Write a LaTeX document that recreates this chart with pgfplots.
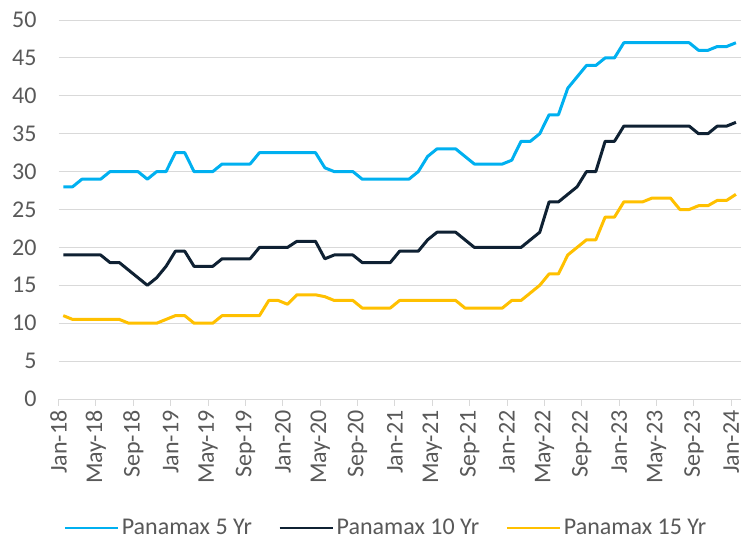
\documentclass[border=0pt]{standalone}
\usepackage{pgfplots}
\pgfplotsset{compat=1.18}
\usepackage{pgfplotstable}
\usepackage{fontspec}
\setmainfont{Carlito}
\definecolor{cblue}{HTML}{00B0F0}
\definecolor{cnavy}{HTML}{0F2133}
\definecolor{cyellow}{HTML}{FFC000}
\definecolor{cgrid}{HTML}{D9D9D9}
\definecolor{ctext}{HTML}{595959}
\pgfplotstableread{
i five ten fifteen
0 28 19 11
1 28 19 10.5
2 29 19 10.5
3 29 19 10.5
4 29 19 10.5
5 30 18 10.5
6 30 18 10.5
7 30 17 10
8 30 16 10
9 29 15 10
10 30 16 10
11 30 17.5 10.5
12 32.5 19.5 11
13 32.5 19.5 11
14 30 17.5 10
15 30 17.5 10
16 30 17.5 10
17 31 18.5 11
18 31 18.5 11
19 31 18.5 11
20 31 18.5 11
21 32.5 20 11
22 32.5 20 13
23 32.5 20 13
24 32.5 20 12.5
25 32.5 20.8 13.75
26 32.5 20.8 13.75
27 32.5 20.8 13.75
28 30.5 18.5 13.5
29 30 19 13
30 30 19 13
31 30 19 13
32 29 18 12
33 29 18 12
34 29 18 12
35 29 18 12
36 29 19.5 13
37 29 19.5 13
38 30 19.5 13
39 32 21 13
40 33 22 13
41 33 22 13
42 33 22 13
43 32 21 12
44 31 20 12
45 31 20 12
46 31 20 12
47 31 20 12
48 31.5 20 13
49 34 20 13
50 34 21 14
51 35 22 15
52 37.5 26 16.5
53 37.5 26 16.5
54 41 27 19
55 42.5 28 20
56 44 30 21
57 44 30 21
58 45 34 24
59 45 34 24
60 47 36 26
61 47 36 26
62 47 36 26
63 47 36 26.5
64 47 36 26.5
65 47 36 26.5
66 47 36 25
67 47 36 25
68 46 35 25.5
69 46 35 25.5
70 46.5 36 26.2
71 46.5 36 26.2
72 47 36.5 27
}\datatable
\begin{document}
\begin{tikzpicture}
\begin{axis}[
  at={(0,0)}, anchor=south west,
  width=511.5pt, height=284.25pt, scale only axis,
  xmin=-0.5, xmax=72.5, ymin=0, ymax=50,
  ytick={0,5,...,50},
  xtick={-0.5,3.5,...,71.5},
  xticklabels={Jan-18,May-18,Sep-18,Jan-19,May-19,Sep-19,Jan-20,May-20,Sep-20,Jan-21,May-21,Sep-21,Jan-22,May-22,Sep-22,Jan-23,May-23,Sep-23,Jan-24},
  x tick label style={rotate=90, anchor=east, font=\fontsize{18}{21}\selectfont, text=ctext},
  y tick label style={font=\fontsize{18}{21}\selectfont, text=ctext},
  /pgf/number format/assume math mode=true,
  axis x line*=bottom,
  axis y line*=left,
  x axis line style={cgrid, line width=0.75pt, -},
  y axis line style={draw=none},
  ymajorgrids, grid style={cgrid, line width=0.75pt},
  ytick style={draw=none},
  xtick style={cgrid, line width=0.75pt},
  tick align=outside, major tick length=5pt,
  yticklabel style={xshift=-8pt},
  legend columns=3,
  legend style={draw=none, at={(0.4806,-0.34)}, anchor=center, font=\fontsize{18}{21}\selectfont, text=ctext, /tikz/every even column/.append style={column sep=18pt}},
  legend image code/.code={\draw[#1, line width=1.5pt] (0pt,0pt) -- (40pt,0pt);},
  every axis plot/.append style={line width=2.25pt, line join=round},
]
\addplot[cblue, mark=none] table[x=i, y=five] {\datatable};
\addlegendentry{Panamax 5 Yr}
\addplot[cnavy, mark=none] table[x=i, y=ten] {\datatable};
\addlegendentry{Panamax 10 Yr}
\addplot[cyellow, mark=none] table[x=i, y=fifteen] {\datatable};
\addlegendentry{Panamax 15 Yr}
\end{axis}
\pgfresetboundingbox
\path (-43.95pt,-105.75pt) rectangle (522.3pt,299.25pt);
\end{tikzpicture}
\end{document}
